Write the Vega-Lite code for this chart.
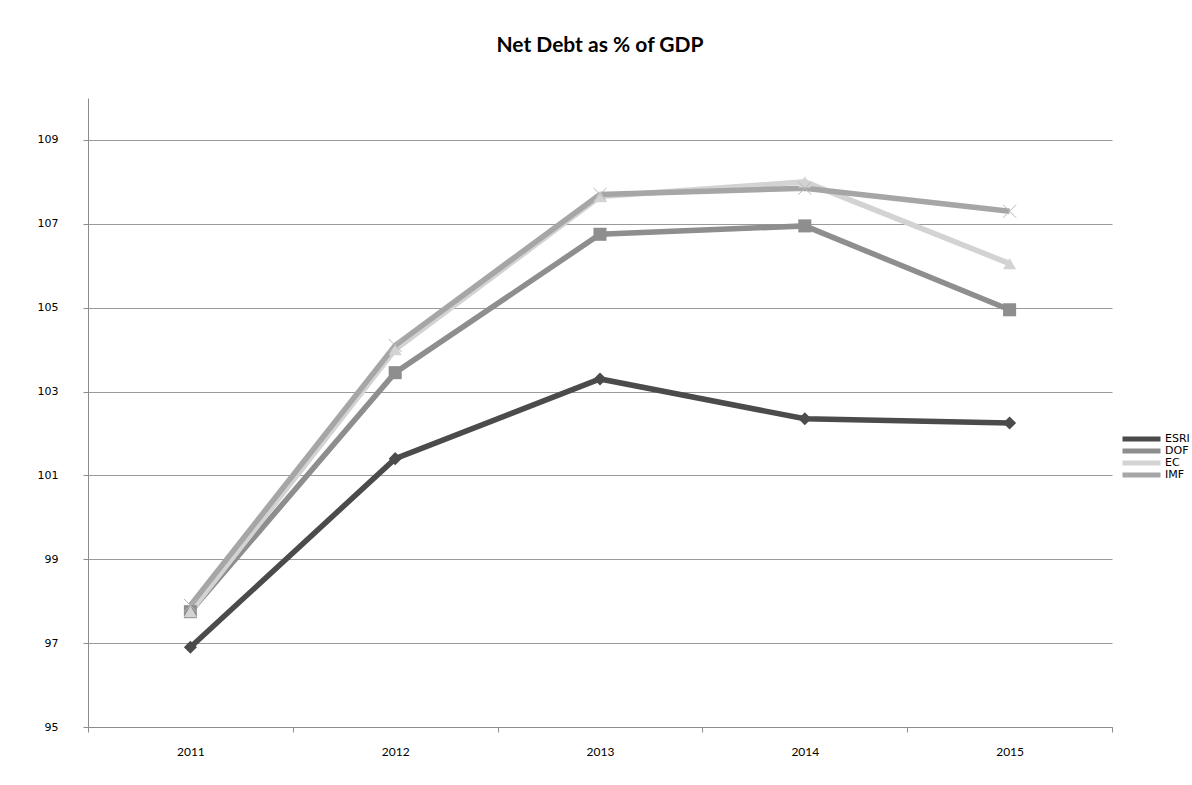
{
  "$schema": "https://vega.github.io/schema/vega-lite/v6.json",
  "width": 1024,
  "height": 629,
  "autosize": {"type": "none"},
  "padding": {"left": 88, "top": 98, "right": 80, "bottom": 58},
  "background": "white",
  "config": {
    "view": {"stroke": null},
    "font": "DejaVu Sans"
  },
  "title": {
    "text": "Net Debt as % of GDP",
    "font": "Lato",
    "fontSize": 21,
    "fontWeight": "bold",
    "color": "#000000",
    "anchor": "middle",
    "offset": 42
  },
  "data": {
    "values": [
      {"year": "2011", "series": "ESRI", "value": 96.9},
      {"year": "2012", "series": "ESRI", "value": 101.4},
      {"year": "2013", "series": "ESRI", "value": 103.3},
      {"year": "2014", "series": "ESRI", "value": 102.35},
      {"year": "2015", "series": "ESRI", "value": 102.25},
      {"year": "2011", "series": "DOF", "value": 97.75},
      {"year": "2012", "series": "DOF", "value": 103.45},
      {"year": "2013", "series": "DOF", "value": 106.75},
      {"year": "2014", "series": "DOF", "value": 106.95},
      {"year": "2015", "series": "DOF", "value": 104.95},
      {"year": "2011", "series": "EC", "value": 97.75},
      {"year": "2012", "series": "EC", "value": 104.0},
      {"year": "2013", "series": "EC", "value": 107.65},
      {"year": "2014", "series": "EC", "value": 108.0},
      {"year": "2015", "series": "EC", "value": 106.05},
      {"year": "2011", "series": "IMF", "value": 97.9},
      {"year": "2012", "series": "IMF", "value": 104.1},
      {"year": "2013", "series": "IMF", "value": 107.7},
      {"year": "2014", "series": "IMF", "value": 107.85},
      {"year": "2015", "series": "IMF", "value": 107.3}
    ]
  },
  "encoding": {
    "x": {
      "field": "year",
      "type": "ordinal",
      "scale": {"type": "band", "paddingInner": 0, "paddingOuter": 0},
      "axis": {
        "title": null,
        "labelAngle": 0,
        "tickBand": "extent",
        "grid": false,
        "domainColor": "#8c8c8c",
        "tickColor": "#8c8c8c",
        "tickSize": 5,
        "labelFont": "Lato",
        "labelFontSize": 12,
        "labelColor": "#000000",
        "labelPadding": 14
      }
    },
    "y": {
      "field": "value",
      "type": "quantitative",
      "scale": {"domain": [95, 110], "nice": false, "zero": false},
      "axis": {
        "title": null,
        "values": [95, 97, 99, 101, 103, 105, 107, 109],
        "grid": true,
        "gridColor": "#9a9a9a",
        "gridWidth": 1,
        "domainColor": "#8c8c8c",
        "tickColor": "#8c8c8c",
        "tickSize": 5,
        "labelFont": "DejaVu Sans",
        "labelFontSize": 11,
        "labelColor": "#000000",
        "labelPadding": 25
      }
    }
  },
  "layer": [
    {
      "mark": {"type": "line", "strokeWidth": 5.5},
      "encoding": {
        "color": {
          "field": "series",
          "type": "nominal",
          "sort": ["ESRI", "DOF", "EC", "IMF"],
          "scale": {
            "domain": ["ESRI", "DOF", "EC", "IMF"],
            "range": ["#4b4b4b", "#8e8e8e", "#d3d3d3", "#a6a6a6"]
          },
          "legend": {
            "title": null,
            "orient": "none",
            "legendX": 1032,
            "legendY": 335,
            "symbolType": "stroke",
            "symbolSize": 1444,
            "symbolStrokeWidth": 5,
            "labelFont": "DejaVu Sans",
            "labelFontSize": 11,
            "labelColor": "#000000",
            "labelOffset": 2,
            "rowPadding": 0,
            "clipHeight": 12
          }
        }
      }
    },
    {
      "transform": [{"filter": "datum.series === 'ESRI'"}],
      "mark": {"type": "point", "shape": "diamond", "filled": true, "opacity": 1, "size": 170, "color": "#4b4b4b"}
    },
    {
      "transform": [{"filter": "datum.series === 'DOF'"}],
      "mark": {"type": "point", "shape": "square", "filled": true, "opacity": 1, "size": 170, "color": "#8e8e8e"}
    },
    {
      "transform": [{"filter": "datum.series === 'EC'"}],
      "mark": {"type": "point", "shape": "triangle-up", "filled": true, "opacity": 1, "size": 170, "color": "#d3d3d3"}
    },
    {
      "transform": [{"filter": "datum.series === 'IMF'"}],
      "mark": {"type": "point", "shape": "M-1,-1L1,1M-1,1L1,-1", "filled": false, "opacity": 1, "size": 170, "strokeWidth": 1, "color": "#b8b8b8"}
    }
  ]
}
